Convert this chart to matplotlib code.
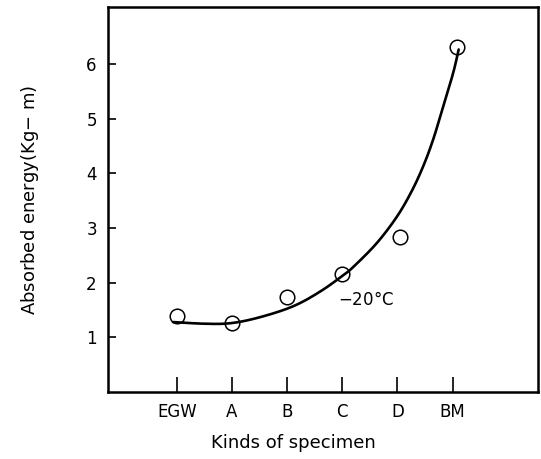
import matplotlib
matplotlib.use("Agg")
import matplotlib.pyplot as plt
import numpy as np

# specimens and measured absorbed energy at -20 C
kinds = ["EGW", "A", "B", "C", "D", "BM"]
energy = [1.40, 1.26, 1.73, 2.16, 2.84, 6.32]
shift = [0, 0, 0, 0, 0.05, 0.08]  # circles sit a bit right of the ticks for D and BM

# hand drawn trend curve
curve_x = [-0.07, 0.5, 0.98, 1.51, 2.11, 2.6, 3.02, 3.20, 3.62, 3.99, 4.26, 4.47, 4.65, 4.83, 5.01, 5.11]
curve_y = [1.28, 1.25, 1.26, 1.37, 1.57, 1.84, 2.14, 2.29, 2.72, 3.21, 3.68, 4.14, 4.63, 5.23, 5.84, 6.27]


def smooth(px, py, n=20):
    # catmull-rom through the read points, only to draw a smooth pen line
    p = np.column_stack([px, py])
    p = np.vstack([p[0] * 2 - p[1], p, p[-1] * 2 - p[-2]])
    out = []
    t = np.linspace(0, 1, n, endpoint=False)[:, None]
    for i in range(1, len(p) - 2):
        p0, p1, p2, p3 = p[i - 1], p[i], p[i + 1], p[i + 2]
        seg = 0.5 * ((2 * p1) + (-p0 + p2) * t + (2 * p0 - 5 * p1 + 4 * p2 - p3) * t ** 2
                     + (-p0 + 3 * p1 - 3 * p2 + p3) * t ** 3)
        out.append(seg)
    out.append(p[-2][None, :])
    out = np.vstack(out)
    return out[:, 0], out[:, 1]


fig = plt.figure(figsize=(5.41, 4.59), dpi=100)
ax = fig.add_axes([0.1996, 0.146, 0.795, 0.839])

pos = np.arange(len(kinds))
sx, sy = smooth(curve_x, curve_y)
ax.plot(sx, sy, color="black", lw=1.9, solid_capstyle="round")
ax.plot(pos + np.array(shift), energy, "o", ms=10.5, mfc="none", mec="black", mew=1.1)

ax.text(2.92, 1.68, "$-$20°C", ha="left", va="center", fontsize=12)

ax.set_xlim(-1.25, 6.55)
ax.set_ylim(0, 7.05)
ax.set_xticks(pos)
ax.set_xticklabels(kinds)
ax.set_yticks([1, 2, 3, 4, 5, 6])
ax.tick_params(axis="x", direction="in", length=11, width=1.2, pad=8, labelsize=12)
ax.tick_params(axis="y", direction="in", length=6, width=1.2, pad=8, labelsize=12)
for s in ax.spines.values():
    s.set_linewidth(1.8)

ax.set_xlabel("Kinds of specimen", fontsize=13)
ax.set_ylabel("Absorbed energy(Kg$-$ m)", fontsize=13)
ax.xaxis.set_label_coords(0.43, -0.11)
ax.yaxis.set_label_coords(-0.155, 0.5)

fig.savefig("out.png", dpi=100)
